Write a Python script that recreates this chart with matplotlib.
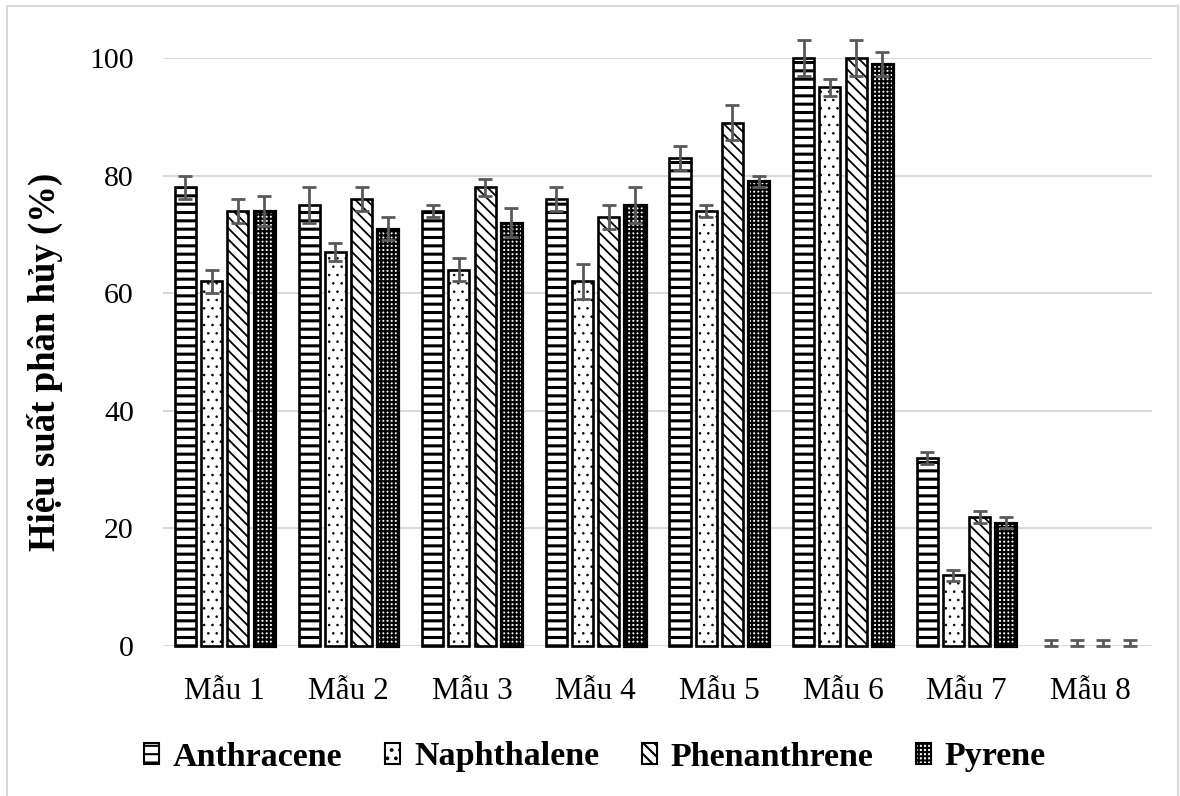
import matplotlib
matplotlib.use("Agg")
import matplotlib.pyplot as plt
import numpy as np
from matplotlib.patches import Rectangle, Patch

plt.rcParams['font.family'] = ['Liberation Serif', 'DejaVu Serif']
plt.rcParams['hatch.linewidth'] = 1.5

categories = ["Mẫu 1", "Mẫu 2", "Mẫu 3", "Mẫu 4", "Mẫu 5", "Mẫu 6", "Mẫu 7", "Mẫu 8"]
series_names = ["Anthracene", "Naphthalene", "Phenanthrene", "Pyrene"]

anthracene = [78, 75, 74, 76, 83, 100, 32, 0]
naphthalene = [62, 67, 64, 62, 74, 95, 12, 0]
phenanthrene = [74, 76, 78, 73, 89, 100, 22, 0]
pyrene = [74, 71, 72, 75, 79, 99, 21, 0]

anthracene_err = [2, 3, 1, 2, 2, 3, 1, 1]
naphthalene_err = [2, 1.5, 2, 3, 1, 1.5, 1, 1]
phenanthrene_err = [2, 2, 1.5, 2, 3, 3, 1, 1]
pyrene_err = [2.5, 2, 2.5, 3, 1, 2, 1, 1]

yticks = [0, 20, 40, 60, 80, 100]

values = [anthracene, naphthalene, phenanthrene, pyrene]
errors = [anthracene_err, naphthalene_err, phenanthrene_err, pyrene_err]
hatches = ['--', '..', '\\\\\\', '++++']
hatch_lws = [2.2, 0.6, 1.3, 1.6]
edge_lws = [1.9, 1.9, 1.9, 2.3]

fig = plt.figure(figsize=(11.8, 7.96), dpi=100)
ax = fig.add_axes([163/1180, 1 - 646/796, (1152-163)/1180, (646-58)/796])

x = np.arange(len(categories))
step = 0.212
width = 0.17
for i, (vals, errs, h, hlw, elw) in enumerate(zip(values, errors, hatches, hatch_lws, edge_lws)):
    pos = x + (i - 1.5) * step
    vals = np.array(vals, dtype=float)
    errs = np.array(errs, dtype=float)
    lo = np.where(vals > 0, errs, 0)
    bars = ax.bar(pos, vals, width, facecolor='white', edgecolor='black',
                  linewidth=elw, hatch=h, zorder=3, clip_on=False)
    for b, v in zip(bars, vals):
        if hasattr(b, 'set_hatch_linewidth'):
            b.set_hatch_linewidth(hlw)
        if v == 0:
            b.set_visible(False)
    eb = ax.errorbar(pos, vals, yerr=[lo, errs], fmt='none', ecolor='#595959',
                     elinewidth=2, capsize=5, capthick=2, zorder=4)
    for art in eb.lines[1] + eb.lines[2]:
        art.set_clip_on(False)

ax.set_xlim(-0.5, len(categories) - 0.5)
ax.set_ylim(0, 100)
ax.set_yticks(yticks)
ax.set_xticks(x)
ax.set_xticklabels(categories)
ax.tick_params(axis='both', length=0, labelsize=21.5)
ax.tick_params(axis='x', labelsize=22.5)
ax.tick_params(axis='y', pad=21)
ax.tick_params(axis='x', pad=22)
ax.yaxis.grid(True, color='#d9d9d9', linewidth=1.5, zorder=0)
ax.set_axisbelow(True)
for s in ax.spines.values():
    s.set_visible(False)
ax.axhline(0, color='#d9d9d9', linewidth=1.8, zorder=2)

fig.text(45/1180, 1 - 362/796, "Hiệu suất phân hủy (%)", rotation=90,
         ha='center', va='center', fontsize=26.5, fontweight='bold')

handles = []
for name, h, hlw in zip(series_names, hatches, hatch_lws):
    p = Patch(facecolor='white', edgecolor='black', hatch=h, linewidth=1.5, label=name)
    if hasattr(p, 'set_hatch_linewidth'):
        p.set_hatch_linewidth(hlw)
    handles.append(p)
fig.legend(handles=handles, loc='center', bbox_to_anchor=(595/1180, 1 - 757/796),
           ncol=4, frameon=False, prop={'weight': 'bold', 'size': 24.5},
           handlelength=0.45, handleheight=0.6, handletextpad=0.4, columnspacing=1.25)

fig.patches.append(Rectangle((7/1180, -0.01), (1178-7)/1180, 1 - 6/796 + 0.01,
                             transform=fig.transFigure, fill=False,
                             edgecolor='#d9d9d9', linewidth=1.5))

fig.savefig("out.png", dpi=100)
